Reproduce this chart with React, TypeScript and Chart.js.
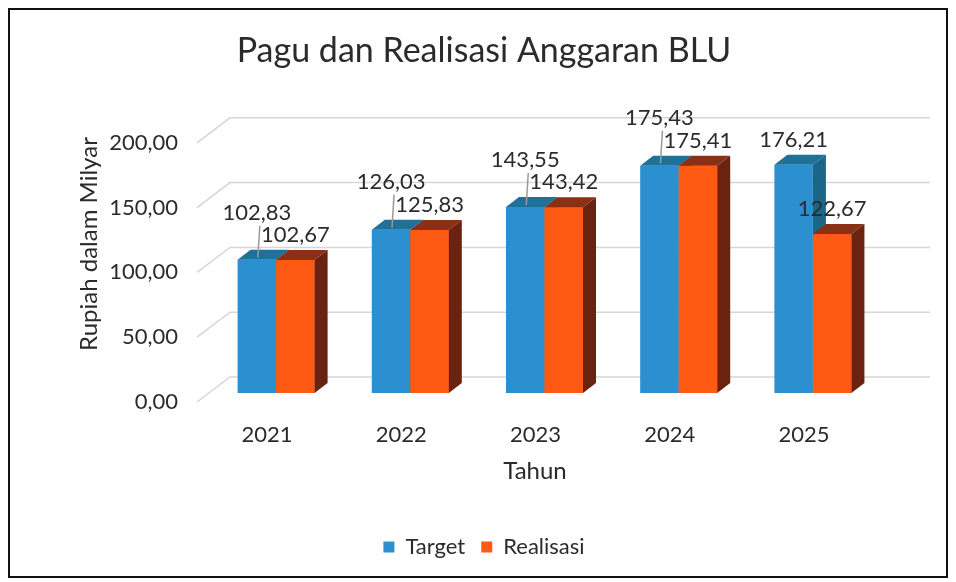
import React, { useEffect, useRef } from "react";
import { Chart, registerables } from "chart.js";
Chart.register(...registerables);

const years = ["2021", "2022", "2023", "2024", "2025"];
const target = [102.83, 126.03, 143.55, 175.43, 176.21];
const realisasi = [102.67, 125.83, 143.42, 175.41, 122.67];
const yTicks = [0, 50, 100, 150, 200];
const targetLabelLift = [47, 48, 47, 48, 25];

const FONT = "Lato, 'Open Sans', sans-serif";
const TEXT = "#2b2b2b";
const fmt = (v: number) => Number(v).toFixed(2).replace(".", ",");

const DX = 13;
const DY = 10;

const COLORS = {
  blueFront: "#2c8fcf",
  blueTop: "#1e7199",
  blueSide: "#1a6688",
  orangeFront: "#ff5a14",
  orangeTop: "#8a3014",
  orangeSide: "#6a2310",
};

function poly(ctx: CanvasRenderingContext2D, pts: number[][], color: string) {
  ctx.beginPath();
  ctx.moveTo(pts[0][0], pts[0][1]);
  for (let i = 1; i < pts.length; i++) ctx.lineTo(pts[i][0], pts[i][1]);
  ctx.closePath();
  ctx.fillStyle = color;
  ctx.fill();
}

const threeD = {
  id: "threeD",
  beforeDatasetsDraw(chart: any) {
    const ctx = chart.ctx as CanvasRenderingContext2D;
    const ys = chart.scales.y;
    ctx.save();
    ctx.strokeStyle = "#d6d6d6";
    ctx.lineWidth = 1.5;
    yTicks.forEach((v) => {
      const f = ys.getPixelForValue(v);
      ctx.beginPath();
      ctx.moveTo(187, f + 9);
      ctx.lineTo(220, f - 16);
      ctx.lineTo(920, f - 16);
      ctx.stroke();
    });
    ctx.restore();
  },
  afterDatasetsDraw(chart: any) {
    const ctx = chart.ctx as CanvasRenderingContext2D;
    const m0 = chart.getDatasetMeta(0).data;
    const m1 = chart.getDatasetMeta(1).data;
    ctx.save();
    for (let i = 0; i < years.length; i++) {
      const b = m0[i];
      const o = m1[i];
      const bl = b.x - b.width / 2, br = b.x + b.width / 2;
      const ol = o.x - o.width / 2, or = o.x + o.width / 2;
      poly(ctx, [[br, b.y], [br + DX, b.y - DY], [br + DX, b.base - DY], [br, b.base]], COLORS.blueSide);
      poly(ctx, [[bl, b.y], [bl + DX, b.y - DY], [br + DX, b.y - DY], [br, b.y]], COLORS.blueTop);
      ctx.fillStyle = COLORS.orangeFront;
      ctx.fillRect(ol, o.y, or - ol, o.base - o.y);
      poly(ctx, [[ol, o.y], [ol + DX, o.y - DY], [or + DX, o.y - DY], [or, o.y]], COLORS.orangeTop);
      poly(ctx, [[or, o.y], [or + DX, o.y - DY], [or + DX, o.base - DY], [or, o.base]], COLORS.orangeSide);
    }
    ctx.font = `22px ${FONT}`;
    ctx.textAlign = "center";
    ctx.textBaseline = "middle";
    for (let i = 0; i < years.length; i++) {
      const b = m0[i];
      const o = m1[i];
      const lift = targetLabelLift[i];
      if (lift > 30) {
        ctx.strokeStyle = "#9a9a9a";
        ctx.lineWidth = 1.5;
        ctx.beginPath();
        ctx.moveTo(b.x + 1, b.y - 2);
        ctx.lineTo(b.x + 3, b.y - lift + 13);
        ctx.stroke();
      }
      ctx.fillStyle = TEXT;
      ctx.fillText(fmt(target[i]), b.x, b.y - lift);
      ctx.fillText(fmt(realisasi[i]), o.x, o.y - 25);
    }
    ctx.restore();
  },
  afterDraw(chart: any) {
    const ctx = chart.ctx as CanvasRenderingContext2D;
    ctx.save();
    ctx.font = `24px ${FONT}`;
    ctx.fillStyle = TEXT;
    ctx.textAlign = "center";
    ctx.textBaseline = "middle";
    ctx.fillText("Tahun", 525, 461);
    ctx.translate(79, 234);
    ctx.rotate(-Math.PI / 2);
    ctx.fillText("Rupiah dalam Milyar", 0, 0);
    ctx.restore();
  },
};

export default function App() {
  const ref = useRef<HTMLCanvasElement | null>(null);
  useEffect(() => {
    if (!ref.current) return;
    const chart = new Chart(ref.current, {
      type: "bar",
      data: {
        labels: years,
        datasets: [
          {
            label: "Target",
            data: target,
            backgroundColor: COLORS.blueFront,
            categoryPercentage: 0.574,
            barPercentage: 1,
          },
          {
            label: "Realisasi",
            data: realisasi,
            backgroundColor: COLORS.orangeFront,
            categoryPercentage: 0.574,
            barPercentage: 1,
          },
        ],
      },
      options: {
        responsive: false,
        animation: false,
        layout: { padding: { left: 78, right: 66, top: 0, bottom: 8 } },
        plugins: {
          title: {
            display: true,
            text: "Pagu dan Realisasi Anggaran BLU",
            font: { family: FONT, size: 34, weight: "normal" },
            color: TEXT,
            padding: { top: 21, bottom: 62 },
          },
          legend: {
            position: "bottom",
            labels: {
              boxWidth: 11,
              boxHeight: 11,
              padding: 16,
              color: TEXT,
              font: { family: FONT, size: 22 },
            },
          },
          tooltip: { enabled: false },
        },
        scales: {
          x: {
            grid: { display: false, drawTicks: false },
            border: { display: false },
            ticks: {
              color: TEXT,
              font: { family: FONT, size: 22 },
              padding: 29,
              labelOffset: -9,
            },
            afterFit: (s: any) => {
              s.height = 127;
            },
          },
          y: {
            min: 0,
            max: 200,
            grid: { display: false, drawTicks: false },
            border: { display: false },
            afterBuildTicks: (s: any) => {
              s.ticks = yTicks.map((v) => ({ value: v }));
            },
            ticks: {
              color: TEXT,
              font: { family: FONT, size: 22 },
              padding: 31,
              labelOffset: 9,
              callback: (v: any) => fmt(Number(v)),
            },
            afterFit: (s: any) => {
              s.width = 121;
            },
          },
        },
      },
      plugins: [threeD],
    });
    return () => chart.destroy();
  }, []);

  return (
    <div
      style={{
        width: 936,
        height: 566,
        border: "2px solid #111",
        background: "#fff",
      }}
    >
      <canvas ref={ref} width={936} height={566} style={{ display: "block" }} />
    </div>
  );
}
